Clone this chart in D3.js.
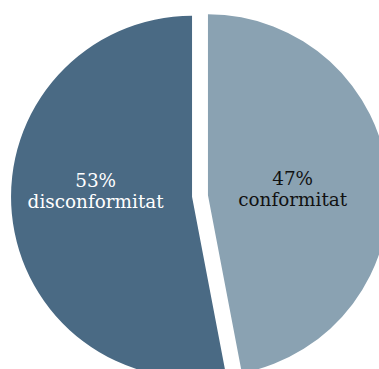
<!DOCTYPE html>
<html>
<head>
<meta charset="utf-8">
<script src="https://cdn.jsdelivr.net/npm/d3@7"></script>
<style>
html,body{margin:0;padding:0;background:#fff;}
svg{display:block;}
</style>
</head>
<body>
<svg id="chart" width="379" height="369"></svg>
<script>
const categories = ["conformitat", "disconformitat"];
const values = [47, 53];
const colors = ["#8aa2b2", "#4a6a84"];
const textColors = ["#111111", "#ffffff"];

const width = 379, height = 369;
const cx = 200, cy = 196, radius = 181, explode = 8;

const svg = d3.select("#chart");
const g = svg.append("g").attr("transform", `translate(${cx},${cy})`);

const pie = d3.pie().sort(null).value(d => d.value);
const data = categories.map((c, i) => ({name: c, value: values[i], i}));
const arcs = pie(data);
const arc = d3.arc().innerRadius(0).outerRadius(radius);
const labelArc = d3.arc().innerRadius(0).outerRadius(radius);

const slice = g.selectAll("g.slice").data(arcs).join("g")
  .attr("class", "slice")
  .attr("transform", d => {
    const a = (d.startAngle + d.endAngle) / 2;
    return `translate(${Math.sin(a) * explode},${-Math.cos(a) * explode})`;
  });

slice.append("path")
  .attr("d", arc)
  .attr("fill", d => colors[d.data.i]);

const fmt = d3.format(".0%");
const total = d3.sum(values);
const label = slice.append("text")
  .attr("text-anchor", "middle")
  .attr("font-family", "'DejaVu Serif', serif")
  .attr("font-size", 18.4)
  .attr("fill", d => textColors[d.data.i])
  .attr("transform", d => {
    const c = labelArc.centroid(d);
    const x = c[0] * (d.data.i === 0 ? 0.94 : 1.07);
    return `translate(${x},0)`;
  });
label.append("tspan").attr("x", 0).attr("y", -10).text(d => fmt(d.data.value / total));
label.append("tspan").attr("x", 0).attr("y", 11).text(d => d.data.name);
</script>
</body>
</html>
